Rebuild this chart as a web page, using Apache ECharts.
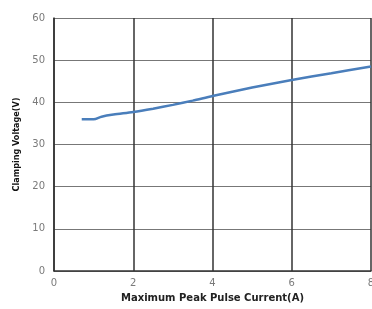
<!DOCTYPE html>
<html>
<head>
<meta charset="utf-8">
<script src="https://cdn.jsdelivr.net/npm/echarts@6/dist/echarts.min.js"></script>
<style>
  html, body { margin: 0; padding: 0; background: #fff; }
  #chart { width: 372px; height: 309px; }
</style>
</head>
<body>
<div id="chart"></div>
<script>
// clamping curve
const currentA = [0.7, 1.0, 1.2, 1.5, 2.0, 2.5, 3.0, 3.5, 4.0, 5.0, 6.0, 7.0, 8.0];
const voltageV = [36.0, 36.0, 36.6, 37.1, 37.7, 38.5, 39.4, 40.4, 41.5, 43.5, 45.3, 46.9, 48.5];

const xTitle = 'Maximum Peak Pulse Current(A)';
const yTitle = 'Clamping Voltage(V)';

const chart = echarts.init(document.getElementById('chart'));

const tickLabel = {
  color: '#7a7a7a',
  fontFamily: 'DejaVu Sans',
  fontSize: 10
};

chart.setOption({
  animation: false,
  grid: { left: 54, right: 1, top: 18, bottom: 38, containLabel: false, outerBoundsMode: 'none' },
  xAxis: {
    type: 'value',
    min: 0,
    max: 8,
    interval: 2,
    name: xTitle,
    nameLocation: 'middle',
    nameGap: 22,
    nameTextStyle: { color: '#222', fontFamily: 'DejaVu Sans', fontWeight: 'bold', fontSize: 10 },
    axisLine: { lineStyle: { color: '#333', width: 1.5 } },
    axisTick: { show: false },
    axisLabel: Object.assign({ margin: 7, hideOverlap: false }, tickLabel),
    splitLine: { show: true, lineStyle: { color: '#333', width: 1.5 } }
  },
  yAxis: {
    type: 'value',
    min: 0,
    max: 60,
    interval: 10,
    name: yTitle,
    nameLocation: 'middle',
    nameGap: 32,
    nameTextStyle: { color: '#111', fontFamily: 'DejaVu Sans Condensed', fontWeight: 'bold', fontSize: 9 },
    axisLine: { show: true, lineStyle: { color: '#333', width: 1.5 } },
    axisTick: { show: false },
    axisLabel: Object.assign({ margin: 9 }, tickLabel),
    splitLine: { show: true, lineStyle: { color: '#777', width: 1 } }
  },
  series: [{
    type: 'line',
    data: currentA.map((x, i) => [x, voltageV[i]]),
    smooth: 0.3,
    showSymbol: false,
    lineStyle: { color: '#4a7ebb', width: 2.5 }
  }]
});
</script>
</body>
</html>
